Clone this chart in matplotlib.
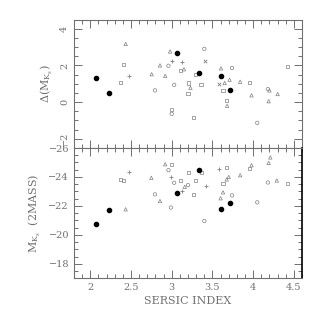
import matplotlib
matplotlib.use("Agg")
import matplotlib.pyplot as plt
import matplotlib.ticker as ticker
import numpy as np

GRAY = "#707070"
MARK = "#808080"
BLACK = "#000000"

# top panel: Delta(M_Ks) vs Sersic index
top_filled_x = [2.07, 2.23, 3.07, 3.34, 3.61, 3.72]
top_filled_y = [1.29, 0.49, 2.70, 1.57, 1.45, 0.65]
top_circle_x = [2.795, 2.96, 3.03, 3.00, 3.40, 3.74, 4.18, 4.05]
top_circle_y = [0.64, 1.98, 0.94, -0.64, 2.90, 1.86, 0.71, -1.13]
top_tri_x = [2.435, 2.754, 2.856, 2.92, 2.98, 3.15, 3.23, 3.605, 3.65, 3.71,
             3.84, 3.98, 4.20, 4.30, 4.19, 3.68]
top_tri_y = [3.17, 1.52, 2.00, 1.43, 2.76, 1.79, 0.78, 1.84, 1.04, 1.22,
             1.11, 0.37, 0.64, 0.44, 0.05, -0.20]
top_sq_x = [2.405, 2.377, 3.105, 3.00, 3.20, 3.21, 3.29, 3.36, 3.63, 3.96,
            3.67, 3.27, 4.42]
top_sq_y = [2.03, 1.08, 1.70, -0.39, 0.46, 1.04, 1.50, 0.97, 0.64, 1.08,
            0.10, -0.85, 1.93]
top_star_x = [2.48, 3.00, 3.13]
top_star_y = [1.42, 2.23, 2.19]
top_x_x = [3.41, 3.58]
top_x_y = [2.23, 0.99]

# bottom panel: M_Ks (2MASS) vs Sersic index
bot_filled_x = [2.07, 2.23, 3.07, 3.34, 3.61, 3.72]
bot_filled_y = [-20.75, -21.73, -22.91, -24.47, -21.81, -22.23]
bot_circle_x = [2.795, 2.99, 2.96, 3.03, 3.20, 3.40, 3.74, 4.18, 4.05]
bot_circle_y = [-22.80, -21.89, -24.47, -23.60, -23.44, -20.96, -22.73,
                -23.62, -22.25]
bot_tri_x = [2.435, 2.75, 2.856, 2.92, 3.16, 3.675, 3.70, 3.63, 3.60, 3.84,
             3.98, 4.19, 4.29, 4.21]
bot_tri_y = [-21.77, -23.94, -22.34, -24.88, -23.32, -23.83, -24.00, -22.94,
             -22.53, -24.12, -24.81, -24.97, -23.76, -25.35]
bot_sq_x = [2.377, 2.41, 3.00, 3.11, 3.21, 3.29, 3.27, 3.37, 3.67, 3.96,
            4.42, 3.63]
bot_sq_y = [-23.85, -23.73, -24.88, -23.78, -24.28, -23.78, -22.80, -24.30,
            -24.67, -24.58, -23.53, -23.55]
bot_star_x = [2.48, 2.99, 3.13, 3.42, 3.58]
bot_star_y = [-24.33, -23.97, -23.05, -23.37, -24.56]

x_ticks = [2, 2.5, 3, 3.5, 4, 4.5]
x_ticklabels = ["2", "2.5", "3", "3.5", "4", "4.5"]

plt.rcParams["font.family"] = "DejaVu Serif"
plt.rcParams["mathtext.fontset"] = "dejavuserif"

fig = plt.figure(figsize=(3.2, 3.2), dpi=100)
ax1 = fig.add_axes([0.231, 0.5375, 0.713, 0.4015])
ax2 = fig.add_axes([0.231, 0.130, 0.713, 0.4075], sharex=ax1)


def style_axis(ax):
    for s in ax.spines.values():
        s.set_color(GRAY)
        s.set_linewidth(0.8)
    ax.tick_params(which="both", direction="in", top=True, right=True,
                   color=GRAY, labelcolor=GRAY, labelsize=7, width=0.7)
    ax.tick_params(which="major", length=6)
    ax.tick_params(which="minor", length=3)
    ax.xaxis.set_minor_locator(ticker.MultipleLocator(0.1))
    ax.yaxis.set_minor_locator(ticker.MultipleLocator(0.5))


def draw_points(ax, fx, fy, cx, cy, tx, ty, sx, sy, px, py, xx=None, xy=None):
    kw = dict(facecolors="none", edgecolors=MARK, linewidths=0.5)
    ax.scatter(cx, cy, s=6, marker="o", **kw)
    ax.scatter(tx, ty, s=6, marker="^", **kw)
    ax.scatter(sx, sy, s=5, marker="s", **kw)
    ax.scatter(px, py, s=9, marker="+", color=MARK, linewidths=0.6)
    if xx is not None:
        ax.scatter(xx, xy, s=6, marker="x", color=MARK, linewidths=0.6)
    ax.scatter(fx, fy, s=9, marker="o", color=BLACK, zorder=3)


draw_points(ax1, top_filled_x, top_filled_y, top_circle_x, top_circle_y,
            top_tri_x, top_tri_y, top_sq_x, top_sq_y, top_star_x, top_star_y,
            top_x_x, top_x_y)
draw_points(ax2, bot_filled_x, bot_filled_y, bot_circle_x, bot_circle_y,
            bot_tri_x, bot_tri_y, bot_sq_x, bot_sq_y, bot_star_x, bot_star_y)

style_axis(ax1)
style_axis(ax2)

ax1.set_xlim(1.8, 4.6)
ax1.set_ylim(-2.5, 4.5)
ax1.set_yticks([-2, 0, 2, 4])
ax1.set_yticklabels(["\u22122", "0", "2", "4"], rotation=90, va="center")
ax1.tick_params(labelbottom=False)

ax2.set_ylim(-17, -26)
ax2.set_yticks([-26, -24, -22, -20, -18])
ax2.set_yticklabels(["\u221226", "\u221224", "\u221222", "\u221220", "\u221218"])
ax2.set_xticks(x_ticks)
ax2.set_xticklabels(x_ticklabels)
ax2.spines["right"].set_color(BLACK)
ax2.spines["right"].set_linewidth(1.2)

ax1.set_ylabel(r"$\Delta(\mathrm{M}_{\mathrm{K_s}})$", color=GRAY, fontsize=8)
ax2.set_ylabel(r"$\mathrm{M}_{\mathrm{K_s}}$  (2MASS)", color=GRAY, fontsize=8)
ax2.set_xlabel("SERSIC INDEX", color=GRAY, fontsize=8, labelpad=3)
fig.align_ylabels([ax1, ax2])

fig.savefig("out.png", dpi=100)
